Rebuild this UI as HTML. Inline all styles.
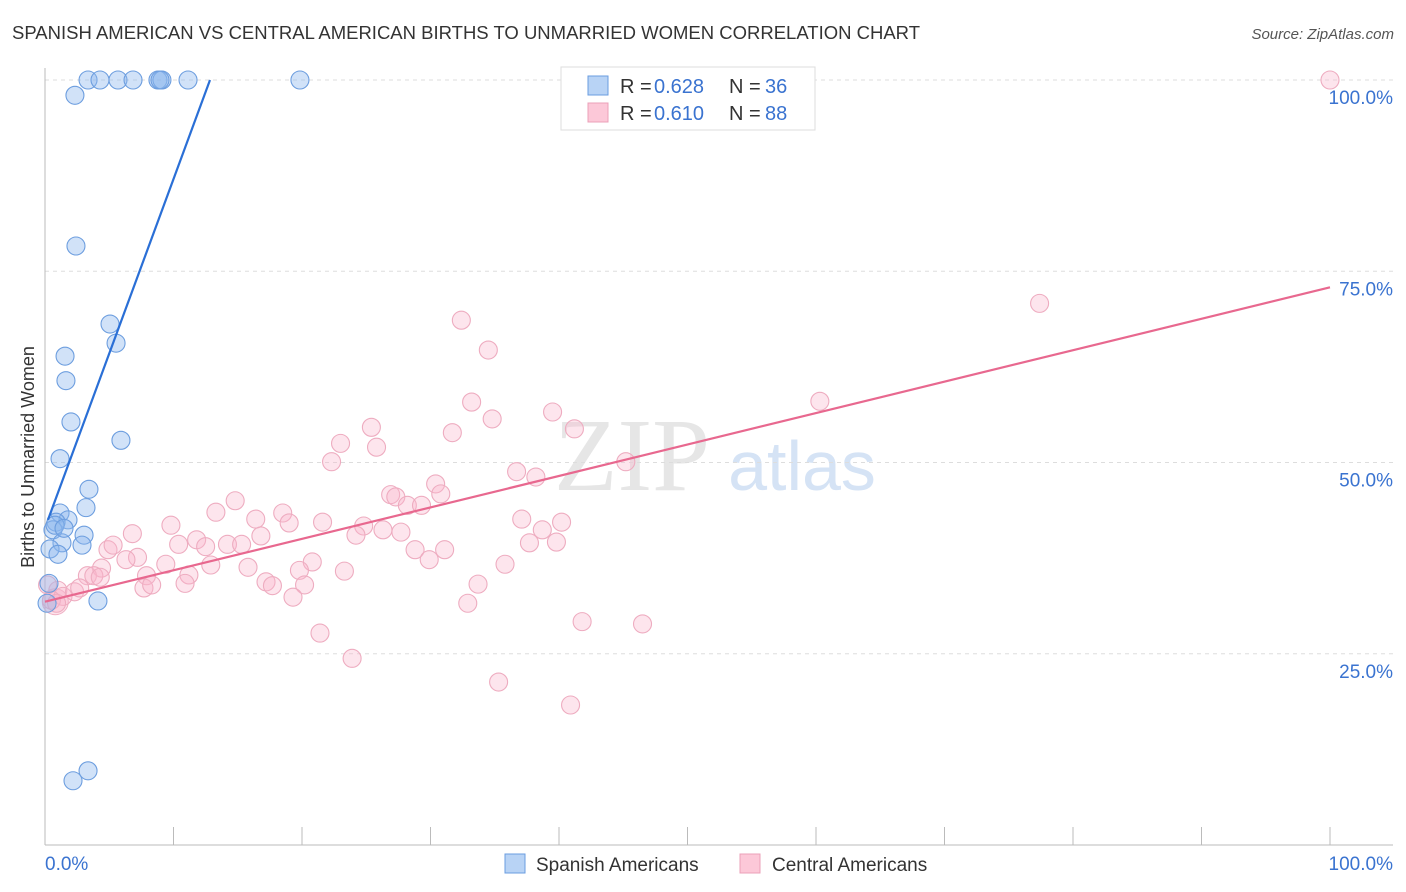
<!DOCTYPE html>
<html><head><meta charset="utf-8"><style>
body{margin:0;background:#fff;font-family:"Liberation Sans",sans-serif;}
svg{display:block}
</style></head><body>
<svg id="chart" width="1406" height="892">
<text x="12" y="39" font-size="18.5" fill="#333">SPANISH AMERICAN VS CENTRAL AMERICAN BIRTHS TO UNMARRIED WOMEN CORRELATION CHART</text>
<text x="1394" y="39" font-size="15" fill="#555" text-anchor="end" font-style="italic">Source: ZipAtlas.com</text>
<text x="632" y="490" font-size="104" fill="#e6e6e6" font-family="Liberation Serif" text-anchor="middle">ZIP</text>
<text x="802" y="490" font-size="70" fill="#d5e3f5" text-anchor="middle">atlas</text>
<g id="grid"></g>
<g id="axes"></g>
<g id="pts"></g>
<g id="lines"></g>
<text transform="translate(34,457) rotate(-90)" font-size="18" fill="#333" text-anchor="middle">Births to Unmarried Women</text>
<g>
<rect x="561" y="67" width="254" height="63" fill="#fff" stroke="#ddd"/>
<rect x="588" y="76" width="20" height="19" fill="#b8d3f5" stroke="#6a9de0"/>
<rect x="588" y="103" width="20" height="19" fill="#fcc8d8" stroke="#eba0b8"/>
<text y="93" font-size="20" fill="#333"><tspan x="620">R =</tspan><tspan x="654" fill="#3a73d0">0.628</tspan><tspan x="729">N =</tspan><tspan x="765" fill="#3a73d0">36</tspan></text>
<text y="120" font-size="20" fill="#333"><tspan x="620">R =</tspan><tspan x="654" fill="#3a73d0">0.610</tspan><tspan x="729">N =</tspan><tspan x="765" fill="#3a73d0">88</tspan></text>
</g>
<g>
<rect x="505" y="854" width="20" height="19" fill="#b8d3f5" stroke="#6a9de0"/>
<text x="536" y="871" font-size="19" fill="#333">Spanish Americans</text>
<rect x="740" y="854" width="20" height="19" fill="#fcc8d8" stroke="#eba0b8"/>
<text x="772" y="871" font-size="19" fill="#333">Central Americans</text>
</g>
</svg>
<script>
const blueX=[3.35,4.28,5.68,6.85,8.79,9.1,11.13,19.84,8.95,2.33,2.41,5.06,5.53,1.56,1.63,2.02,5.91,1.17,3.42,3.19,1.17,1.79,0.86,0.62,3.04,2.88,1.32,0.39,1.01,0.31,0.16,4.12,2.18,3.35,0.78,1.48];
const blueY=[100,100,100,100,100,100,100,100,100,98.0,78.3,68.1,65.6,63.9,60.7,55.3,52.9,50.5,46.5,44.1,43.4,42.5,42.2,41.2,40.5,39.2,39.5,38.7,38.0,34.2,31.6,31.9,8.4,9.7,41.8,41.4];
const pinkX=[100,77.4,32.4,34.5,60.3,33.2,39.5,34.8,41.2,25.4,31.7,23.0,25.8,22.3,45.2,36.7,38.2,26.9,27.3,30.4,30.8,28.2,29.3,14.8,13.3,18.5,16.4,19.0,21.6,9.8,37.1,40.2,38.7,24.8,26.3,27.7,24.2,6.8,11.8,10.4,14.2,12.5,15.3,16.8,39.8,37.7,28.8,31.1,4.9,5.3,7.2,6.3,9.4,12.9,15.8,20.8,19.8,29.9,35.8,7.9,11.2,4.4,3.3,3.8,4.3,7.7,8.3,10.9,17.2,17.7,20.2,23.3,33.7,32.9,19.3,1.0,1.4,2.3,2.7,0.2,0.5,0.9,21.4,41.8,46.5,23.9,35.3,40.9];
const pinkY=[100,70.8,68.6,64.7,58.0,57.9,56.6,55.7,54.4,54.6,53.9,52.5,52.0,50.1,50.1,48.8,48.1,45.8,45.5,47.2,45.9,44.4,44.4,45.0,43.5,43.4,42.6,42.1,42.2,41.8,42.6,42.2,41.2,41.7,41.2,40.9,40.5,40.7,39.9,39.3,39.3,39.0,39.3,40.4,39.6,39.5,38.6,38.6,38.6,39.2,37.6,37.3,36.7,36.6,36.3,37.0,35.9,37.3,36.7,35.2,35.3,36.2,35.2,35.2,35.0,33.6,34.0,34.2,34.4,33.9,34.0,35.8,34.1,31.6,32.4,33.3,32.5,33.1,33.6,34.0,32.0,31.6,27.7,29.2,28.9,24.4,21.3,18.3];
const blueLine=[41.45,4.56];
const pinkLine=[31.8,0.411];
const yTicks=[25,50,75,100];
const yTickLabels=["25.0%","50.0%","75.0%","100.0%"];
const xTicks=[0,10,20,30,40,50,60,70,80,90,100];
const X0=45,X1=1330,Y0=845,Y1=80;
const sx=v=>X0+(X1-X0)*v/100;
const sy=v=>Y0-(Y0-Y1)*v/100;
const NS="http://www.w3.org/2000/svg";
function mk(tag,attrs,parent){const e=document.createElementNS(NS,tag);for(const k in attrs)e.setAttribute(k,attrs[k]);document.getElementById(parent).appendChild(e);return e;}
yTicks.forEach((t,i)=>{
 const g=mk('line',{x1:X0,x2:1393,y1:sy(t),y2:sy(t),stroke:'#ddd','stroke-dasharray':'4,4'},'grid');
 
 
 const l=mk('text',{x:1393,y:sy(t)+24,'font-size':19,fill:'#3a73d0','text-anchor':'end'},'grid');
 l.textContent=yTickLabels[i];
 
 
});
const ya=mk('line',{x1:X0,x2:X0,y1:68,y2:Y0,stroke:'#bbb'},'axes');


const xa=mk('line',{x1:X0,x2:1393,y1:Y0,y2:Y0,stroke:'#bbb'},'axes');


xTicks.forEach(t=>{
 const k=mk('line',{x1:sx(t),x2:sx(t),y1:Y0,y2:827,stroke:'#bbb'},'axes');
 
 
});
const xl0=mk('text',{x:45,y:870,'font-size':19,fill:'#3a73d0'},'axes');xl0.textContent='0.0%';


const xl1=mk('text',{x:1393,y:870,'font-size':19,fill:'#3a73d0','text-anchor':'end'},'axes');xl1.textContent='100.0%';


const bigP=mk('circle',{cx:sx(0.8),cy:sy(31.8),r:13,fill:'rgba(245,160,185,0.3)',stroke:'#efb0c4'},'pts');


pinkX.forEach((x,i)=>{
 const c=mk('circle',{cx:sx(x),cy:sy(pinkY[i]),r:9,fill:'rgba(248,180,202,0.35)',stroke:'#eeacc0','stroke-width':1.1},'pts');
 
 
});
blueX.forEach((x,i)=>{
 const c=mk('circle',{cx:sx(x),cy:sy(blueY[i]),r:9,fill:'rgba(140,182,238,0.4)',stroke:'#6d9edf','stroke-width':1.1},'pts');
 
 
});
const bxEnd=(100-blueLine[0])/blueLine[1];
const bl=mk('line',{x1:sx(0.23),y1:sy(blueLine[0]+blueLine[1]*0.23),x2:sx(bxEnd),y2:sy(100),stroke:'#2a6fd6','stroke-width':2.2},'lines');


const pl=mk('line',{x1:sx(0),y1:sy(pinkLine[0]),x2:sx(100),y2:sy(pinkLine[0]+pinkLine[1]*100),stroke:'#e8688f','stroke-width':2.2},'lines');


</script>
</body></html>
